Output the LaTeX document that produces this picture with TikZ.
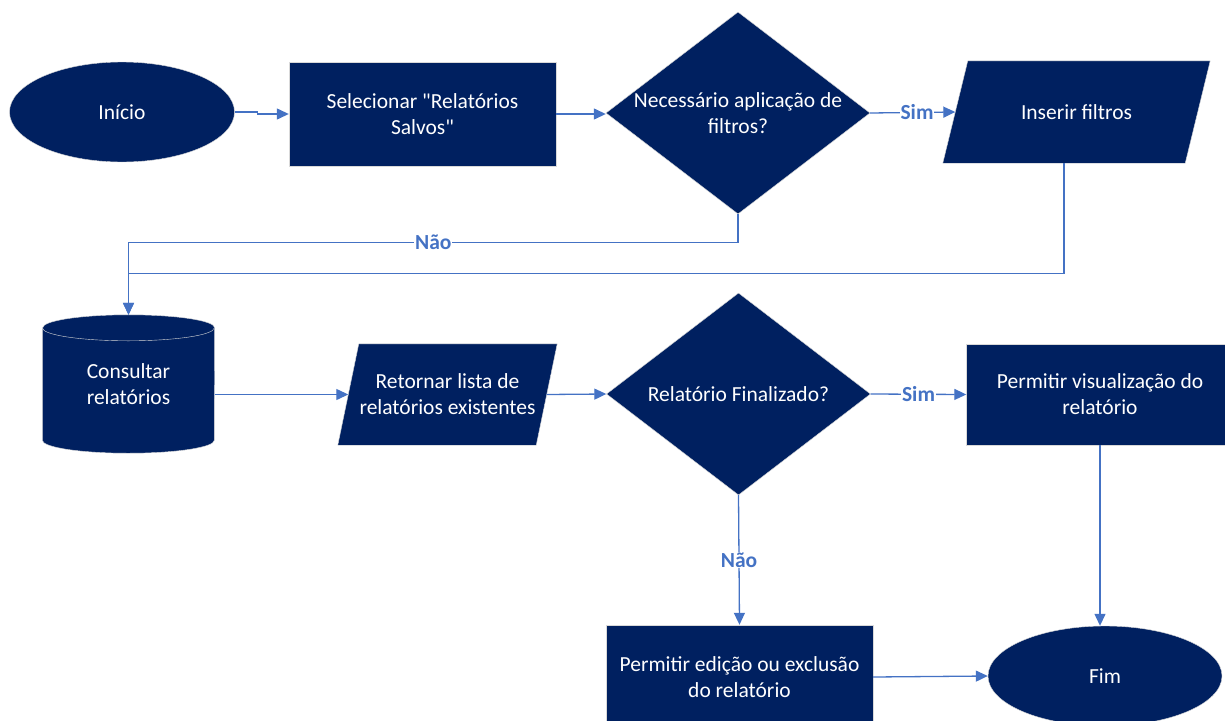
\documentclass[tikz,border=0pt]{standalone}
\usepackage{fontspec}
\setmainfont{Carlito}[Ligatures=TeXOff]
\usepackage{tikz}
\usetikzlibrary{shapes.geometric}
\usetikzlibrary{arrows.meta}
\usetikzlibrary{backgrounds}
\definecolor{navy}{HTML}{002060}
\definecolor{linkblue}{HTML}{4472C4}

\begin{document}
\begin{tikzpicture}[x=1pt, y=-1pt,
    every node/.style={font=\fontsize{21.5}{26}\selectfont, text=white, align=center},
    box/.style={rectangle, fill=navy, draw=black!15, minimum width=267pt, minimum height=104pt},
    term/.style={ellipse, fill=navy, draw=black!15, minimum width=225pt, minimum height=100pt},
    decision/.style={diamond, fill=navy, draw=black!15, aspect=1.3, inner sep=-3pt, minimum width=264pt, minimum height=202pt},
    shade/.style={fill=navy, draw=black!15},
    flow/.style={draw=linkblue, line width=1.3pt, -{Triangle[length=12pt,width=11pt]}},
    answer/.style={text=linkblue, font=\fontsize{21.5}{26}\selectfont\bfseries, fill=white, inner sep=1pt}]
        \useasboundingbox (0,0) rectangle (1225,720);

        \node[term] (start) at (122,112) {Início};
        \node[box] (sel) at (422.5,114) {Selecionar "Relatórios\\Salvos"};
        \node[decision] (filt) at (738,113) {Necessário aplicação de\\filtros?};
        \node[minimum width=242pt, minimum height=102pt] (ins) at (1076.5,112) {Inserir filtros};
        \node[minimum width=172pt, minimum height=112pt] (cons) at (128.5,384) {Consultar\\relatórios};
        \node[minimum width=198pt, minimum height=101pt] (ret) at (447.5,394.5) {Retornar lista de\\relatórios existentes};
        \node[decision] (fin) at (738.5,394) {Relatório Finalizado?};
        \node[box, minimum height=101pt] (vis) at (1100,394.5) {Permitir visualização do\\relatório};
        \node[box] (edit) at (739.5,677) {Permitir edição ou exclusão\\do relatório};
        \node[term, minimum width=234pt] (end) at (1105,676) {Fim};

        % slanted boxes and the cylinder, behind their texts
        \begin{scope}[on background layer]
            \path[shade] ([xshift=12.5pt]ins.north west) -- ([xshift=12.5pt]ins.north east)
                -- ([xshift=-12.5pt]ins.south east) -- ([xshift=-12.5pt]ins.south west) -- cycle;
            \path[shade] ([xshift=10.5pt]ret.north west) -- ([xshift=10.5pt]ret.north east)
                -- ([xshift=-10.5pt]ret.south east) -- ([xshift=-10.5pt]ret.south west) -- cycle;
            \path[shade] (cons.north west) -- (cons.south west)
                arc[start angle=180, end angle=360, x radius=86pt, y radius=13pt] -- (cons.north east)
                arc[start angle=0, end angle=180, x radius=86pt, y radius=13pt] -- cycle;
            \draw[black!15] (cons.north west) arc[start angle=180, end angle=360, x radius=86pt, y radius=13pt];
        \end{scope}
        \coordinate (consTop) at ([yshift=13pt]cons.north);
        \coordinate (insFoot) at ([xshift=-12.5pt]ins.south);

        \draw[flow] (start.east) -- ++(23,0) |- (sel.west);
        \draw[flow] (sel.east) -- (sel.east -| filt.west);
        \draw[flow] (filt.east) -- node[answer, pos=0.55] {Sim} (ins.west);
        \draw[flow] (filt.south) -- ++(0,28) -| node[answer, pos=0.25] {Não} (consTop);
        \draw[flow] (insFoot) -- ++(0,110) -| (consTop);
        \draw[flow] (cons.east |- ret.west) -- (ret.west);
        \draw[flow] (ret.east) -- (fin.west);
        \draw[flow] (fin.east) -- node[answer] {Sim} (vis.west);
        \draw[flow] (fin.south) -- node[answer] {Não} (edit.north);
        \draw[flow] (edit.east) -- (end.west);
        \draw[flow] (vis.south) -- (vis.south |- end.north);
    \end{tikzpicture}
\end{document}
